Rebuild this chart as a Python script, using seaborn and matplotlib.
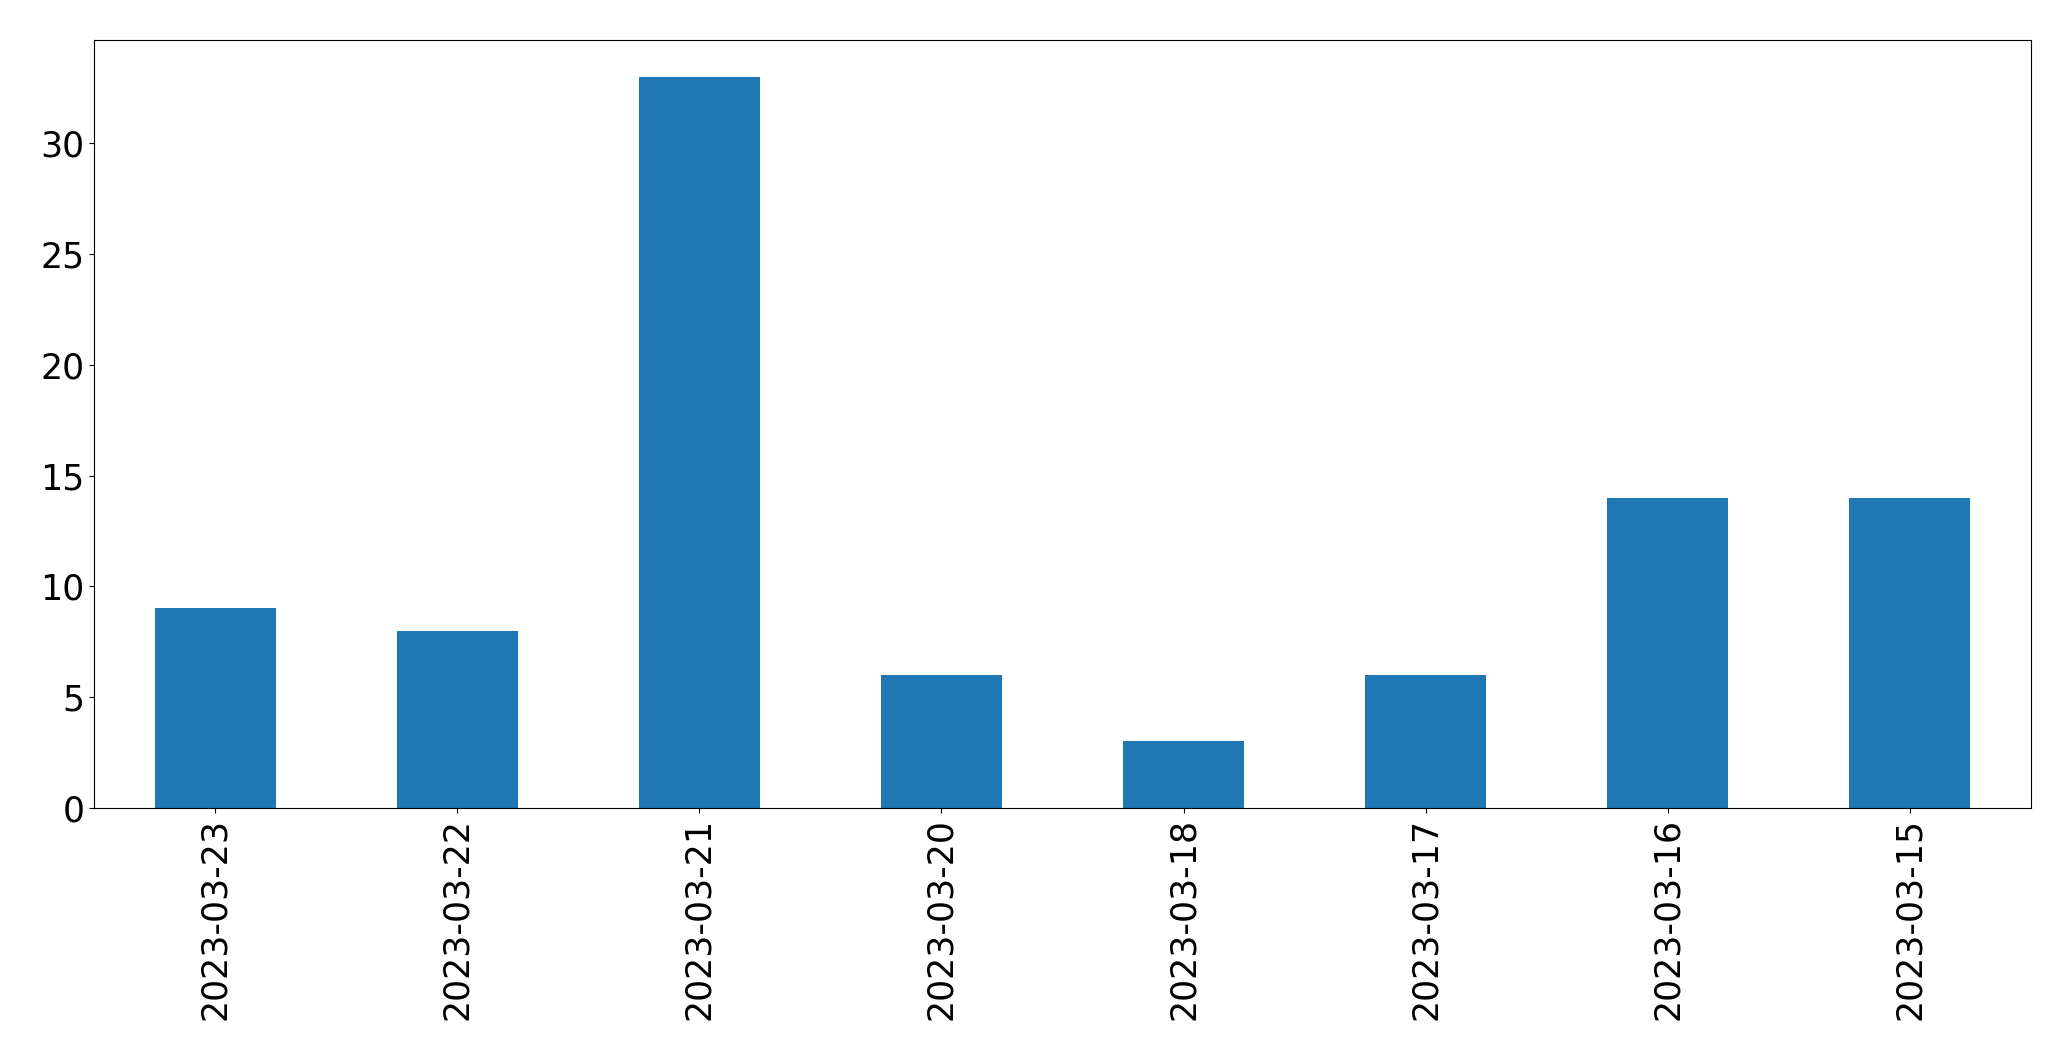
import matplotlib
matplotlib.use('Agg')
import matplotlib.pyplot as plt
import pandas as pd
import seaborn as sns

dates = ['2023-03-23', '2023-03-22', '2023-03-21', '2023-03-20',
         '2023-03-18', '2023-03-17', '2023-03-16', '2023-03-15']
counts = [9, 8, 33, 6, 3, 6, 14, 14]

df = pd.DataFrame({'date': dates, 'count': counts})

fig = plt.figure(figsize=(20.71, 10.61), dpi=100)
ax = fig.add_axes([0.0454, 0.2385, 0.9353, 0.7238])
sns.barplot(data=df, x='date', y='count', order=dates, color='#1f77b4',
            saturation=1, width=0.5, linewidth=0, ax=ax)
ax.set_xlim(-0.5, 7.5)
ax.set_xlabel('')
ax.set_ylabel('')
ax.tick_params(axis='both', labelsize=25)
ax.tick_params(axis='x', labelrotation=90)
fig.savefig('out.png', dpi=100)
